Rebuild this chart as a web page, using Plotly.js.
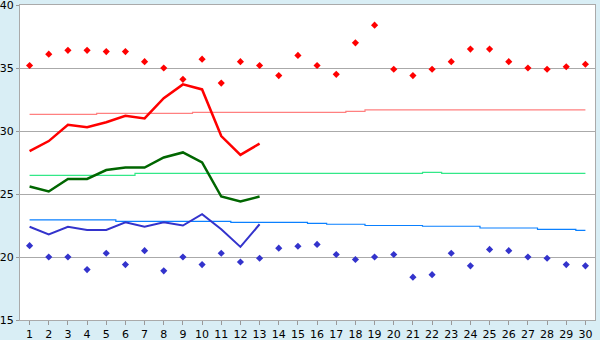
<!DOCTYPE html>
<html>
<head>
<meta charset="utf-8">
<script src="https://cdn.plot.ly/plotly-3.0.1.min.js"></script>
<style>html,body{margin:0;padding:0;background:#d9eef5;}#chart{width:600px;height:340px;}</style>
</head>
<body>
<div id="chart"></div>
<script>
var days = [];
for (var i = 1; i <= 30; i++) days.push(i);
var obsDays = [1,2,3,4,5,6,7,8,9,10,11,12,13];
var yTicks = [15,20,25,30,35,40];

var maxRecords = [35.2,36.1,36.4,36.4,36.3,36.3,35.5,35.0,34.1,35.7,33.8,35.5,35.2,34.4,36.0,35.2,34.5,37.0,38.4,34.9,34.4,34.9,35.5,36.5,36.5,35.5,35.0,34.9,35.1,35.3];
var minRecords = [20.9,20.0,20.0,19.0,20.3,19.4,20.5,18.9,20.0,19.4,20.3,19.6,19.9,20.7,20.85,21.0,20.2,19.8,20.0,20.2,18.4,18.6,20.3,19.3,20.6,20.5,20.0,19.9,19.4,19.3];
var maxObserved = [28.4,29.2,30.5,30.3,30.7,31.2,31.0,32.6,33.7,33.3,29.6,28.1,29.0];
var meanObserved = [25.6,25.2,26.2,26.2,26.9,27.1,27.1,27.9,28.3,27.5,24.8,24.4,24.8];
var minObserved = [22.4,21.8,22.4,22.15,22.15,22.75,22.4,22.75,22.5,23.4,22.2,20.8,22.6];
var maxNormal = [31.32,31.32,31.32,31.32,31.4,31.4,31.4,31.4,31.4,31.48,31.48,31.48,31.48,31.48,31.48,31.48,31.48,31.56,31.67,31.67,31.67,31.67,31.67,31.67,31.67,31.67,31.67,31.67,31.67,31.67];
var meanNormal = [26.48,26.48,26.48,26.48,26.48,26.48,26.64,26.64,26.64,26.64,26.64,26.64,26.64,26.64,26.64,26.64,26.64,26.64,26.64,26.64,26.64,26.72,26.64,26.64,26.64,26.64,26.64,26.64,26.64,26.64];
var minNormal = [22.94,22.94,22.94,22.94,22.94,22.83,22.83,22.83,22.83,22.83,22.83,22.75,22.75,22.75,22.75,22.67,22.6,22.6,22.5,22.5,22.5,22.44,22.44,22.44,22.3,22.3,22.3,22.2,22.2,22.12];

var traces = [
  {x: days, y: maxNormal, mode: 'lines', line: {color: '#ff8080', width: 1.2, shape: 'hvh'}, hoverinfo: 'skip'},
  {x: days, y: meanNormal, mode: 'lines', line: {color: '#33e888', width: 1.2, shape: 'hvh'}, hoverinfo: 'skip'},
  {x: days, y: minNormal, mode: 'lines', line: {color: '#0a80ff', width: 1.2, shape: 'hvh'}, hoverinfo: 'skip'},
  {x: days, y: maxRecords, mode: 'markers', marker: {symbol: 'diamond', size: 5.5, color: '#ff0000'}},
  {x: days, y: minRecords, mode: 'markers', marker: {symbol: 'diamond', size: 5.5, color: '#3333cc'}},
  {x: obsDays, y: maxObserved, mode: 'lines', line: {color: '#ff0000', width: 2.5}},
  {x: obsDays, y: meanObserved, mode: 'lines', line: {color: '#006600', width: 2.5}},
  {x: obsDays, y: minObserved, mode: 'lines', line: {color: '#3333cc', width: 2}}
];

var layout = {
  width: 600, height: 340,
  margin: {l: 20, r: 5, t: 5, b: 20, pad: 0},
  paper_bgcolor: '#d9eef5',
  plot_bgcolor: '#ffffff',
  showlegend: false,
  font: {family: 'DejaVu Sans, Verdana, sans-serif', size: 11, color: '#000000'},
  xaxis: {
    range: [0.5, 30.5], tickmode: 'array', tickvals: days, ticktext: days.map(String),
    ticks: 'outside', ticklen: 4, tickcolor: '#999999', showgrid: false, zeroline: false,
    showline: true, linecolor: '#aaaaaa', linewidth: 1, mirror: true,
    tickfont: {size: 11}, fixedrange: true
  },
  yaxis: {
    range: [15, 40], tickmode: 'array', tickvals: yTicks, ticktext: yTicks.map(String),
    ticks: 'outside', ticklen: 3, tickcolor: '#999999', ticklabeloverflow: 'allow',
    showgrid: true, gridcolor: '#aaaaaa', gridwidth: 1, zeroline: false,
    showline: true, linecolor: '#aaaaaa', linewidth: 1, mirror: true,
    tickfont: {size: 11}, fixedrange: true
  }
};

Plotly.newPlot('chart', traces, layout, {staticPlot: true, displayModeBar: false});
</script>
</body>
</html>
